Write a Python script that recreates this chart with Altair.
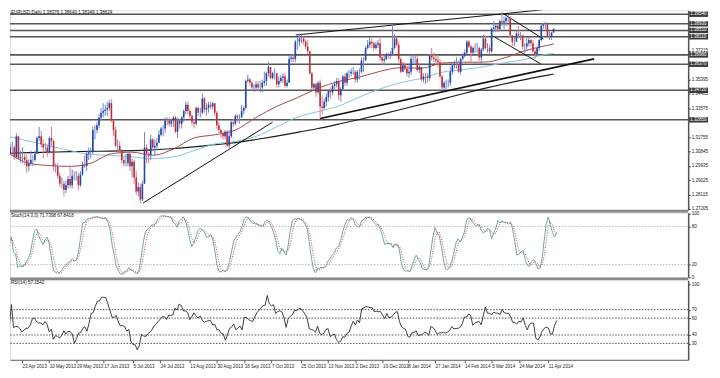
import altair as alt
import pandas as pd

# ---------------- data ----------------
header_main = "EURUSD,Daily  1.38376 1.38640 1.38349 1.38624"
header_stoch = "Stoch(14,3,3) 71.7398 67.8418"
header_rsi = "RSI(14) 57.1542"

first_open = 1.3050
closes = [
    1.3070, 1.3110, 1.3110, 1.3050, 1.3180, 1.3040, 1.3050, 1.3050, 1.3030, 1.2990,
    1.3010, 1.3030, 1.3030, 1.3070, 1.3170, 1.3180, 1.3130, 1.3110, 1.3110, 1.3080,
    1.3170, 1.3150, 1.2990, 1.2990, 1.2930, 1.2880, 1.2880, 1.2840, 1.2870, 1.2910,
    1.2870, 1.2930, 1.2930, 1.2930, 1.2870, 1.2940, 1.3000, 1.2990, 1.3070, 1.3080,
    1.3080, 1.3220, 1.3220, 1.3250, 1.3300, 1.3330, 1.3340, 1.3350, 1.3360, 1.3390,
    1.3280, 1.3220, 1.3120, 1.3120, 1.3090, 1.3030, 1.3010, 1.3010, 1.3070, 1.2990,
    1.3020, 1.2920, 1.2830, 1.2860, 1.2780, 1.2880, 1.3110, 1.3070, 1.3060, 1.3160,
    1.3110, 1.3120, 1.3140, 1.3190, 1.3230, 1.3230, 1.3280, 1.3280, 1.3260, 1.3280,
    1.3300, 1.3210, 1.3280, 1.3260, 1.3300, 1.3340, 1.3380, 1.3340, 1.3310, 1.3270,
    1.3260, 1.3360, 1.3330, 1.3330, 1.3420, 1.3350, 1.3360, 1.3380, 1.3370, 1.3390,
    1.3330, 1.3250, 1.3220, 1.3200, 1.3180, 1.3210, 1.3120, 1.3180, 1.3270, 1.3260,
    1.3310, 1.3300, 1.3300, 1.3340, 1.3360, 1.3530, 1.3540, 1.3520, 1.3490, 1.3490,
    1.3510, 1.3490, 1.3490, 1.3520, 1.3530, 1.3580, 1.3620, 1.3550, 1.3580, 1.3580,
    1.3510, 1.3530, 1.3550, 1.3560, 1.3500, 1.3520, 1.3670, 1.3680, 1.3670, 1.3780,
    1.3780, 1.3800, 1.3800, 1.3780, 1.3750, 1.3720, 1.3580, 1.3490, 1.3510, 1.3460,
    1.3520, 1.3370, 1.3360, 1.3400, 1.3430, 1.3470, 1.3460, 1.3500, 1.3510, 1.3530,
    1.3440, 1.3480, 1.3560, 1.3520, 1.3580, 1.3580, 1.3590, 1.3590, 1.3540, 1.3590,
    1.3590, 1.3660, 1.3660, 1.3740, 1.3760, 1.3780, 1.3770, 1.3740, 1.3760, 1.3770,
    1.3680, 1.3660, 1.3670, 1.3700, 1.3690, 1.3700, 1.3740, 1.3800, 1.3760, 1.3670,
    1.3590, 1.3630, 1.3610, 1.3580, 1.3590, 1.3670, 1.3670, 1.3670, 1.3600, 1.3620,
    1.3540, 1.3560, 1.3560, 1.3550, 1.3690, 1.3680, 1.3670, 1.3660, 1.3650, 1.3560,
    1.3490, 1.3520, 1.3520, 1.3520, 1.3590, 1.3630, 1.3640, 1.3640, 1.3590, 1.3670,
    1.3690, 1.3710, 1.3780, 1.3750, 1.3710, 1.3740, 1.3740, 1.3740, 1.3680, 1.3730,
    1.3800, 1.3740, 1.3740, 1.3720, 1.3860, 1.3870, 1.3880, 1.3860, 1.3910, 1.3900,
    1.3910, 1.3930, 1.3930, 1.3820, 1.3780, 1.3780, 1.3830, 1.3820, 1.3820, 1.3750,
    1.3750, 1.3770, 1.3790, 1.3770, 1.3720, 1.3700, 1.3740, 1.3790, 1.3880, 1.3890,
    1.3890, 1.3810, 1.3810, 1.3838, 1.3862,
]
highs = [
    1.3095, 1.3130, 1.3145, 1.3120, 1.3200, 1.3185, 1.3090, 1.3110, 1.3070, 1.3065,
    1.3035, 1.3090, 1.3060, 1.3090, 1.3180, 1.3240, 1.3215, 1.3160, 1.3140, 1.3130,
    1.3180, 1.3240, 1.3160, 1.3010, 1.3010, 1.2950, 1.2920, 1.2900, 1.2900, 1.2930,
    1.2995, 1.2970, 1.2960, 1.2960, 1.2950, 1.2960, 1.3020, 1.3060, 1.3090, 1.3110,
    1.3110, 1.3240, 1.3250, 1.3270, 1.3320, 1.3360, 1.3390, 1.3380, 1.3400, 1.3410,
    1.3416, 1.3280, 1.3240, 1.3160, 1.3150, 1.3100, 1.3050, 1.3070, 1.3090, 1.3080,
    1.3040, 1.3030, 1.2960, 1.2890, 1.2880, 1.2900, 1.3207, 1.3130, 1.3080, 1.3190,
    1.3170, 1.3160, 1.3170, 1.3220, 1.3240, 1.3250, 1.3300, 1.3300, 1.3300, 1.3290,
    1.3310, 1.3310, 1.3300, 1.3290, 1.3310, 1.3350, 1.3400, 1.3400, 1.3350, 1.3320,
    1.3290, 1.3370, 1.3370, 1.3360, 1.3452, 1.3430, 1.3390, 1.3400, 1.3400, 1.3400,
    1.3390, 1.3340, 1.3270, 1.3230, 1.3210, 1.3220, 1.3220, 1.3220, 1.3280, 1.3290,
    1.3320, 1.3320, 1.3320, 1.3380, 1.3370, 1.3540, 1.3570, 1.3550, 1.3530, 1.3510,
    1.3530, 1.3530, 1.3530, 1.3540, 1.3590, 1.3590, 1.3650, 1.3620, 1.3590, 1.3610,
    1.3580, 1.3560, 1.3570, 1.3580, 1.3580, 1.3540, 1.3690, 1.3700, 1.3700, 1.3790,
    1.3810, 1.3830, 1.3832, 1.3810, 1.3790, 1.3790, 1.3720, 1.3590, 1.3520, 1.3520,
    1.3530, 1.3540, 1.3440, 1.3420, 1.3450, 1.3480, 1.3490, 1.3510, 1.3530, 1.3550,
    1.3550, 1.3490, 1.3570, 1.3580, 1.3590, 1.3600, 1.3610, 1.3620, 1.3600, 1.3600,
    1.3610, 1.3680, 1.3680, 1.3750, 1.3790, 1.3810, 1.3800, 1.3780, 1.3780, 1.3790,
    1.3810, 1.3700, 1.3700, 1.3710, 1.3710, 1.3720, 1.3893, 1.3830, 1.3810, 1.3780,
    1.3680, 1.3650, 1.3650, 1.3630, 1.3630, 1.3690, 1.3700, 1.3690, 1.3690, 1.3640,
    1.3620, 1.3580, 1.3580, 1.3580, 1.3700, 1.3740, 1.3710, 1.3690, 1.3690, 1.3670,
    1.3570, 1.3530, 1.3540, 1.3540, 1.3620, 1.3650, 1.3660, 1.3680, 1.3660, 1.3680,
    1.3710, 1.3730, 1.3790, 1.3790, 1.3760, 1.3750, 1.3770, 1.3770, 1.3750, 1.3740,
    1.3825, 1.3820, 1.3770, 1.3760, 1.3870, 1.3910, 1.3890, 1.3890, 1.3920, 1.3967,
    1.3940, 1.3940, 1.3950, 1.3940, 1.3820, 1.3810, 1.3850, 1.3880, 1.3840, 1.3820,
    1.3770, 1.3810, 1.3810, 1.3800, 1.3790, 1.3730, 1.3750, 1.3800, 1.3890, 1.3900,
    1.3905, 1.3890, 1.3850, 1.3840, 1.3864,
]
lows = [
    1.3030, 1.3060, 1.3060, 1.3030, 1.3040, 1.3030, 1.3015, 1.3010, 1.3000, 1.2950,
    1.2960, 1.2995, 1.2990, 1.3020, 1.3070, 1.3150, 1.3110, 1.3040, 1.3080, 1.3050,
    1.3070, 1.3120, 1.2960, 1.2950, 1.2910, 1.2860, 1.2850, 1.2800, 1.2820, 1.2850,
    1.2850, 1.2850, 1.2900, 1.2900, 1.2840, 1.2860, 1.2930, 1.2980, 1.2960, 1.3030,
    1.3040, 1.3070, 1.3160, 1.3200, 1.3230, 1.3280, 1.3300, 1.3310, 1.3310, 1.3340,
    1.3270, 1.3180, 1.3110, 1.3080, 1.3070, 1.3010, 1.2990, 1.2990, 1.2990, 1.2960,
    1.2920, 1.2880, 1.2810, 1.2800, 1.2755, 1.2770, 1.2880, 1.3010, 1.3010, 1.3030,
    1.3090, 1.3060, 1.3090, 1.3140, 1.3180, 1.3180, 1.3200, 1.3250, 1.3240, 1.3240,
    1.3240, 1.3200, 1.3170, 1.3230, 1.3230, 1.3270, 1.3320, 1.3320, 1.3290, 1.3250,
    1.3230, 1.3250, 1.3310, 1.3300, 1.3320, 1.3330, 1.3310, 1.3330, 1.3350, 1.3350,
    1.3310, 1.3230, 1.3200, 1.3170, 1.3160, 1.3160, 1.3110, 1.3105, 1.3170, 1.3240,
    1.3250, 1.3270, 1.3260, 1.3300, 1.3320, 1.3350, 1.3520, 1.3500, 1.3470, 1.3460,
    1.3470, 1.3470, 1.3460, 1.3460, 1.3500, 1.3500, 1.3560, 1.3540, 1.3540, 1.3540,
    1.3490, 1.3490, 1.3520, 1.3520, 1.3490, 1.3490, 1.3520, 1.3650, 1.3650, 1.3650,
    1.3730, 1.3750, 1.3770, 1.3760, 1.3730, 1.3700, 1.3570, 1.3480, 1.3470, 1.3430,
    1.3450, 1.3295, 1.3320, 1.3350, 1.3370, 1.3400, 1.3420, 1.3440, 1.3480, 1.3490,
    1.3410, 1.3400, 1.3470, 1.3500, 1.3500, 1.3550, 1.3560, 1.3570, 1.3520, 1.3520,
    1.3540, 1.3580, 1.3590, 1.3660, 1.3730, 1.3740, 1.3740, 1.3720, 1.3730, 1.3740,
    1.3660, 1.3630, 1.3630, 1.3660, 1.3670, 1.3670, 1.3690, 1.3730, 1.3750, 1.3650,
    1.3580, 1.3590, 1.3600, 1.3560, 1.3550, 1.3570, 1.3640, 1.3640, 1.3590, 1.3580,
    1.3530, 1.3520, 1.3510, 1.3520, 1.3530, 1.3660, 1.3650, 1.3640, 1.3620, 1.3550,
    1.3480, 1.3477, 1.3480, 1.3490, 1.3500, 1.3570, 1.3610, 1.3610, 1.3580, 1.3570,
    1.3660, 1.3680, 1.3700, 1.3740, 1.3650, 1.3700, 1.3710, 1.3710, 1.3660, 1.3640,
    1.3720, 1.3730, 1.3710, 1.3700, 1.3710, 1.3840, 1.3840, 1.3840, 1.3850, 1.3880,
    1.3860, 1.3880, 1.3900, 1.3810, 1.3750, 1.3750, 1.3780, 1.3800, 1.3790, 1.3730,
    1.3705, 1.3720, 1.3750, 1.3750, 1.3710, 1.3672, 1.3690, 1.3720, 1.3780, 1.3860,
    1.3860, 1.3800, 1.3790, 1.3790, 1.3835,
]

# moving averages (bar index, price)
ma_idx = [0, 10, 20, 30, 40, 50, 60, 70, 80, 90, 100, 110, 120, 130, 140, 150,
          160, 170, 180, 190, 200, 210, 220, 230, 240, 250, 260, 264]
ma_red = [1.3075, 1.3010, 1.2995, 1.2990, 1.3010, 1.3070, 1.3080, 1.3060, 1.3100,
          1.3170, 1.3190, 1.3220, 1.3300, 1.3370, 1.3425, 1.3485, 1.3528, 1.3555,
          1.3592, 1.3615, 1.3612, 1.3644, 1.3650, 1.3650, 1.3676, 1.3722, 1.3754, 1.3765]
ma_blue = [1.3180, 1.3150, 1.3120, 1.3090, 1.3065, 1.3060, 1.3050, 1.3040, 1.3050,
           1.3090, 1.3132, 1.3148, 1.3180, 1.3240, 1.3302, 1.3337, 1.3372, 1.3429,
           1.3481, 1.3521, 1.3547, 1.3586, 1.3602, 1.3621, 1.3646, 1.3666, 1.3699, 1.3705]
ma_black = [1.3073, 1.3077, 1.3080, 1.3083, 1.3085, 1.3087, 1.3090, 1.3095, 1.3103,
            1.3113, 1.3127, 1.3140, 1.3160, 1.3182, 1.3205, 1.3230, 1.3258, 1.3287,
            1.3318, 1.3350, 1.3383, 1.3416, 1.3450, 1.3482, 1.3512, 1.3540, 1.3565, 1.3575]

# trend lines (id, bar index, price)
trend_id = ["a", "a", "b", "b", "c", "c", "d", "d", "e", "e"]
trend_i = [139.2, 258.5, 65.3, 128.0, 151.0, 283.6, 240.0, 259.0, 235.5, 257.7]
trend_p = [1.3822, 1.3982, 1.2758, 1.3270, 1.3293, 1.3671, 1.3954, 1.3797, 1.3809, 1.3640]
trend_w = [1, 1, 1, 1, 1.7, 1.7, 1, 1, 1, 1]

# horizontal levels
levels = [1.39540, 1.38930, 1.38510, 1.38110, 1.36960, 1.36370, 1.34720, 1.32850]

price_ticks = [1.27205, 1.28115, 1.29025, 1.29935, 1.30845, 1.31755,
               1.33575, 1.34485, 1.35395, 1.37215]

date_ticks = [9, 22, 35, 48, 62, 75, 89, 102, 115, 128, 142, 155, 168, 181, 193,
              206, 220, 233, 246, 260]
date_labels = ["23 Apr 2013", "10 May 2013", "29 May 2013", "17 Jun 2013", "5 Jul 2013",
               "24 Jul 2013", "13 Aug 2013", "30 Aug 2013", "18 Sep 2013", "7 Oct 2013",
               "25 Oct 2013", "13 Nov 2013", "2 Dec 2013", "19 Dec 2013", "8 Jan 2014",
               "27 Jan 2014", "14 Feb 2014", "5 Mar 2014", "24 Mar 2014", "11 Apr 2014"]

stoch_levels = [80, 20]
stoch_ticks = [100, 80, 20, 0]
rsi_levels = [70, 60, 40, 30]
rsi_ticks = [100, 70, 60, 40, 30]

# ---------------- layout ----------------
W = 683
H1, H2, H3 = 201, 65, 80
PXBAR = 2.112
X0 = 3.314
XDOM = [X0, X0 + W / PXBAR]
PDOM = [1.27145, 1.39788]
SDOM = [0.0, 101.2]
RDOM = [10.6, 104.7]
FONT = "Liberation Sans"
FS = 4.6
UP, DOWN = "#2346a8", "#c42a35"
UPW, DOWNW = "#6f86c8", "#d98088"
SEP = "#8a8a8a"

opens = [first_open] + closes[:-1]
df = pd.DataFrame({"i": list(range(len(closes))), "o": opens, "h": highs,
                   "l": lows, "c": closes})

xs = alt.Scale(domain=XDOM, nice=False, zero=False)
x_none = alt.X("i:Q", scale=xs, axis=None)

# ---------- main price panel ----------
ps = alt.Scale(domain=PDOM, nice=False, zero=False)
pax = alt.Axis(orient="right", values=price_ticks, format=".5f", title=None,
               labelFontSize=FS, labelFont=FONT, labelColor="#222", tickSize=2,
               tickColor="#333", labelPadding=1, domainColor="#555",
               domainWidth=1.5, grid=False, labelOverlap=False)

def py(field):
    return alt.Y(field, scale=ps, axis=pax)

lev_df = pd.DataFrame({"p": levels, "lab": [f"{v:.5f}" for v in levels]})
lev_rules = alt.Chart(lev_df).mark_rule(color="#555555", strokeWidth=1.6).encode(y=py("p:Q"))
lev_box = alt.Chart(lev_df).mark_rule(color="#3a3a3a", strokeWidth=5.5).encode(
    x=alt.value(W + 1), x2=alt.value(W + 20), y=py("p:Q"))
lev_txt = alt.Chart(lev_df).mark_text(align="left", baseline="middle", fontSize=FS,
                                      font=FONT, color="white").encode(
    x=alt.value(W + 2), y=py("p:Q"), text="lab:N")

ma_df = pd.DataFrame({"i": ma_idx, "red": ma_red, "blue": ma_blue, "black": ma_black})
ma_black_l = alt.Chart(ma_df).mark_line(color="#1a1a1a", strokeWidth=1.2, clip=True,
                                        interpolate="monotone").encode(x=x_none, y=py("black:Q"))
ma_blue_l = alt.Chart(ma_df).mark_line(color="#86c5dc", strokeWidth=1, clip=True,
                                       interpolate="monotone").encode(x=x_none, y=py("blue:Q"))
ma_red_l = alt.Chart(ma_df).mark_line(color="#a84848", strokeWidth=1, clip=True,
                                      interpolate="monotone").encode(x=x_none, y=py("red:Q"))

tr_df = pd.DataFrame({"id": trend_id, "i": trend_i, "p": trend_p, "w": trend_w})
trends = alt.Chart(tr_df).mark_line(color="#111111", clip=True).encode(
    x=x_none, y=py("p:Q"), detail="id:N",
    strokeWidth=alt.StrokeWidth("w:Q", scale=None, legend=None))

wicks = alt.Chart(df).mark_rule(strokeWidth=1, clip=True).encode(
    x=x_none, y=py("l:Q"), y2="h:Q",
    color=alt.condition("datum.c >= datum.o", alt.value(UPW), alt.value(DOWNW)))
bodies = alt.Chart(df).mark_bar(width=1.6, clip=True).encode(
    x=x_none, y=py("o:Q"), y2="c:Q",
    color=alt.condition("datum.c >= datum.o", alt.value(UP), alt.value(DOWN)))

hdr_main = alt.Chart(pd.DataFrame({"t": [header_main]})).mark_text(
    align="left", baseline="middle", fontSize=FS, font=FONT, color="#111").encode(
    x=alt.value(1), y=alt.value(3), text="t:N")
sep1 = alt.Chart(pd.DataFrame({"a": [0]})).mark_rule(color=SEP, strokeWidth=3).encode(
    x=alt.value(0), x2=alt.value(W), y=alt.value(H1 + 1.5))

main = alt.layer(lev_rules, ma_black_l, ma_blue_l, ma_red_l, trends, wicks, bodies,
                 lev_box, lev_txt, hdr_main, sep1).properties(width=W, height=H1)

# ---------- stochastic panel ----------
ss = alt.Scale(domain=SDOM, nice=False, zero=False)
sax = alt.Axis(orient="right", values=stoch_ticks, format="d", title=None,
               labelFontSize=FS, labelFont=FONT, labelColor="#222", tickSize=2,
               tickColor="#333", labelPadding=1, domainColor="#555", domainWidth=1.5,
               grid=False, labelOverlap=False)
srt = [alt.SortField("i")]
st_base = alt.Chart(df).transform_window(
    hh="max(h)", ll="min(l)", frame=[-13, 0], sort=srt
).transform_calculate(
    num="datum.c - datum.ll", den="datum.hh - datum.ll"
).transform_window(
    sn="sum(num)", sd="sum(den)", frame=[-2, 0], sort=srt
).transform_calculate(
    k="100 * datum.sn / datum.sd"
).transform_window(
    d="mean(k)", frame=[-2, 0], sort=srt
)
k_line = st_base.mark_line(color="#6aa9a6", strokeWidth=1, clip=True).encode(
    x=x_none, y=alt.Y("k:Q", scale=ss, axis=sax))
d_line = st_base.mark_line(color="#c0392b", strokeWidth=0.9, strokeDash=[1, 1.5],
                           clip=True).encode(x=x_none, y=alt.Y("d:Q", scale=ss, axis=sax))
s_lev = alt.Chart(pd.DataFrame({"v": stoch_levels})).mark_rule(
    color="#b5b5b5", strokeDash=[1.5, 1.5], strokeWidth=1).encode(y=alt.Y("v:Q", scale=ss, axis=sax))
hdr_st = alt.Chart(pd.DataFrame({"t": [header_stoch]})).mark_text(
    align="left", baseline="middle", fontSize=FS, font=FONT, color="#111").encode(
    x=alt.value(1), y=alt.value(3), text="t:N")
sep2 = alt.Chart(pd.DataFrame({"a": [0]})).mark_rule(color=SEP, strokeWidth=3).encode(
    x=alt.value(0), x2=alt.value(W), y=alt.value(H2 + 1.5))
stoch = alt.layer(s_lev, k_line, d_line, hdr_st, sep2).properties(width=W, height=H2)

# ---------- RSI panel ----------
rs = alt.Scale(domain=RDOM, nice=False, zero=False)
rax = alt.Axis(orient="right", values=rsi_ticks, format="d", title=None,
               labelFontSize=FS, labelFont=FONT, labelColor="#222", tickSize=2,
               tickColor="#333", labelPadding=1, domainColor="#555", domainWidth=1.5,
               grid=False, labelOverlap=False)
lab_arr = "[" + ",".join(f"'{s}'" for s in date_labels) + "]"
idx_arr = "[" + ",".join(str(v) for v in date_ticks) + "]"
xax = alt.Axis(orient="bottom", values=date_ticks, title=None,
               labelExpr=f"{lab_arr}[indexof({idx_arr}, datum.value)]",
               labelAlign="left", labelFontSize=FS, labelFont=FONT, labelColor="#222",
               labelPadding=1, tickSize=3, tickColor="#555", domainColor="#666",
               domainWidth=1, grid=False, labelOverlap=False, labelFlush=False)
x_date = alt.X("i:Q", scale=xs, axis=xax)
rsi_base = alt.Chart(df).transform_calculate(
    g="max(datum.c - datum.o, 0)", ls="max(datum.o - datum.c, 0)"
).transform_window(
    ag="mean(g)", al="mean(ls)", frame=[-19, 0], sort=srt
).transform_calculate(
    rsi="datum.ag + datum.al > 0 ? 100 * datum.ag / (datum.ag + datum.al) : 50"
)
r_line = rsi_base.mark_line(color="#2b2b2b", strokeWidth=0.9, clip=True).encode(
    x=x_date, y=alt.Y("rsi:Q", scale=rs, axis=rax))
r_lev = alt.Chart(pd.DataFrame({"v": rsi_levels})).mark_rule(
    color="#555555", strokeDash=[1.5, 1.5], strokeWidth=1).encode(
    y=alt.Y("v:Q", scale=rs, axis=rax))
hdr_r = alt.Chart(pd.DataFrame({"t": [header_rsi]})).mark_text(
    align="left", baseline="middle", fontSize=FS, font=FONT, color="#111").encode(
    x=alt.value(1), y=alt.value(3), text="t:N")
rsi = alt.layer(r_lev, r_line, hdr_r).properties(width=W, height=H3)

chart = alt.vconcat(main, stoch, rsi, spacing=3, bounds="flush").properties(
    padding={"left": 0, "top": 0, "right": 0, "bottom": 0}
).configure_view(stroke=None).configure(background="white")

chart.save("out.html", embed_options={"renderer": "svg", "actions": False})
